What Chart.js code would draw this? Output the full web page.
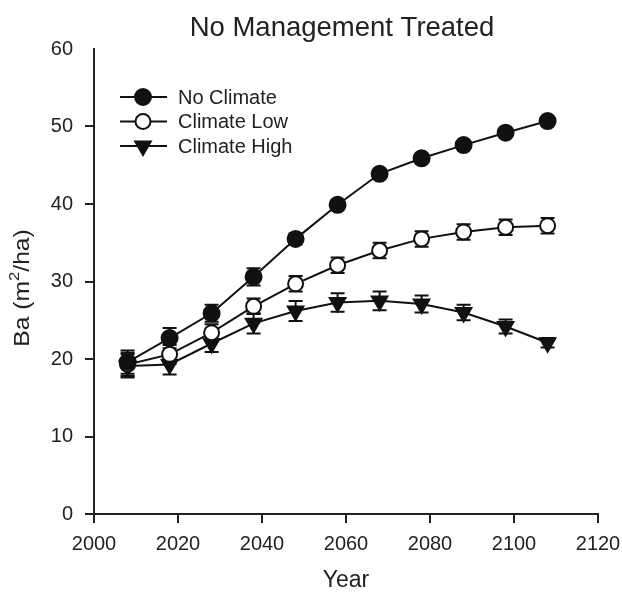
<!DOCTYPE html>
<html>
<head>
<meta charset="utf-8">
<script src="https://cdn.jsdelivr.net/npm/chart.js@4.4.0/dist/chart.umd.min.js"></script>
<style>
  html, body { margin:0; padding:0; background:#fff; }
</style>
</head>
<body>
<canvas id="c" width="622" height="594"></canvas>
<script>
const years = [2008, 2018, 2028, 2038, 2048, 2058, 2068, 2078, 2088, 2098, 2108];
const noClimate    = [19.6, 22.7, 25.9, 30.6, 35.5, 39.9, 43.9, 45.9, 47.6, 49.2, 50.7];
const noClimateErr = [1.5, 1.3, 1.1, 1.1, 0.7, 0.6, 0.5, 0.5, 0.5, 0.5, 0.5];
const climateLow    = [19.3, 20.6, 23.4, 26.8, 29.7, 32.1, 34.0, 35.5, 36.4, 37.0, 37.2];
const climateLowErr = [1.5, 1.2, 1.1, 1.0, 1.0, 1.0, 1.0, 1.0, 1.0, 1.0, 1.0];
const climateHigh    = [19.1, 19.3, 22.0, 24.6, 26.2, 27.3, 27.5, 27.1, 26.0, 24.2, 22.1];
const climateHighErr = [1.5, 1.3, 1.1, 1.3, 1.3, 1.2, 1.2, 1.1, 1.0, 0.9, 0.6];
const seriesNames = ['No Climate', 'Climate Low', 'Climate High'];

const FONT = '"Liberation Sans", Arial, sans-serif';
const INK = '#111';
const TXT = '#222';

function pts(vals){
  return years.map((yr, i) => ({x: yr, y: vals[i]}));
}

// vertical error bars with caps, drawn under the markers
const errorBars = {
  id: 'errorBars',
  beforeDatasetsDraw(chart){
    const {ctx, scales:{x, y}} = chart;
    ctx.save();
    ctx.strokeStyle = INK;
    ctx.lineWidth = 2;
    chart.data.datasets.forEach(ds => {
      ds.err.forEach((e, j) => {
        const px = x.getPixelForValue(ds.data[j].x);
        const top = y.getPixelForValue(ds.data[j].y + e);
        const bot = y.getPixelForValue(ds.data[j].y - e);
        ctx.beginPath();
        ctx.moveTo(px, top); ctx.lineTo(px, bot);
        ctx.moveTo(px - 7, top); ctx.lineTo(px + 7, top);
        ctx.moveTo(px - 7, bot); ctx.lineTo(px + 7, bot);
        ctx.stroke();
      });
    });
    ctx.restore();
  }
};

// legend inside the plot, line + marker + label
const innerLegend = {
  id: 'innerLegend',
  afterDraw(chart){
    const ctx = chart.ctx;
    ctx.save();
    chart.data.datasets.forEach((ds, i) => {
      const cy = 97 + i * 24.5;
      ctx.strokeStyle = INK;
      ctx.lineWidth = 2;
      ctx.beginPath();
      ctx.moveTo(120, cy); ctx.lineTo(167, cy);
      ctx.stroke();
      ctx.fillStyle = ds.pointBackgroundColor;
      Chart.helpers.drawPoint(ctx, {
        pointStyle: ds.pointStyle,
        rotation: ds.pointRotation || 0,
        radius: ds.pointRadius,
        borderWidth: 2
      }, 143, cy);
      ctx.fillStyle = TXT;
      ctx.font = '20px ' + FONT;
      ctx.textBaseline = 'middle';
      ctx.textAlign = 'left';
      ctx.fillText(ds.label, 178, cy + 1);
    });
    ctx.restore();
  }
};

// title centred on the plot area + y title with a real superscript
const texts = {
  id: 'texts',
  afterDraw(chart){
    const {ctx, chartArea} = chart;
    ctx.save();
    ctx.fillStyle = TXT;
    ctx.font = '27.5px ' + FONT;
    ctx.textAlign = 'center';
    ctx.textBaseline = 'middle';
    ctx.fillText('No Management Treated', (chartArea.left + chartArea.right) / 2 - 4, 28);
    ctx.restore();

    const parts = [['Ba (m', 22, 0], ['2', 15, -8], ['/ha)', 22, 0]];
    ctx.save();
    ctx.translate(23, 288);
    ctx.rotate(-Math.PI / 2);
    ctx.scale(1.12, 1);
    ctx.fillStyle = TXT;
    ctx.textBaseline = 'middle';
    ctx.textAlign = 'left';
    let total = 0;
    parts.forEach(p => { ctx.font = p[1] + 'px ' + FONT; total += ctx.measureText(p[0]).width; });
    let xx = -total / 2;
    parts.forEach(p => {
      ctx.font = p[1] + 'px ' + FONT;
      ctx.fillText(p[0], xx, p[2]);
      xx += ctx.measureText(p[0]).width;
    });
    ctx.restore();
  }
};

const common = {
  borderColor: INK,
  borderWidth: 2,
  pointBorderColor: INK,
  pointBorderWidth: 2,
  tension: 0
};

new Chart(document.getElementById('c'), {
  type: 'line',
  data: {
    datasets: [
      Object.assign({}, common, {
        label: seriesNames[0], data: pts(noClimate), err: noClimateErr,
        pointStyle: 'circle', pointRadius: 8, pointBackgroundColor: INK
      }),
      Object.assign({}, common, {
        label: seriesNames[1], data: pts(climateLow), err: climateLowErr,
        pointStyle: 'circle', pointRadius: 7.5, pointBackgroundColor: '#fff'
      }),
      Object.assign({}, common, {
        label: seriesNames[2], data: pts(climateHigh), err: climateHighErr,
        pointStyle: 'triangle', pointRotation: 180, pointRadius: 9, pointBackgroundColor: INK
      })
    ]
  },
  options: {
    responsive: false,
    animation: false,
    layout: { padding: { top: 49, right: 24, left: 0, bottom: 0 } },
    plugins: {
      legend: { display: false },
      title: { display: false },
      tooltip: { enabled: false }
    },
    scales: {
      x: {
        type: 'linear',
        min: 2000, max: 2120,
        afterFit(scale){
          scale.height = 80;
          scale.paddingLeft = 0;
          scale.paddingRight = 0;
        },
        ticks: { stepSize: 20, color: TXT, font: { family: FONT, size: 20 }, padding: 9, callback: v => String(v) },
        grid: { drawOnChartArea: false, drawTicks: true, tickLength: 9, color: '#222', lineWidth: 2 },
        border: { display: true, color: '#222', width: 2 },
        title: { display: true, text: 'Year', color: TXT, font: { family: FONT, size: 23 }, padding: { top: 0, bottom: 0 } }
      },
      y: {
        min: 0, max: 60,
        afterFit(scale){ scale.width = 94; },
        ticks: { stepSize: 10, color: TXT, font: { family: FONT, size: 20 }, padding: 12 },
        grid: {
          drawOnChartArea: false, drawTicks: true, tickLength: 9, lineWidth: 2,
          color: c => (c.tick && c.tick.value === 60) ? 'rgba(0,0,0,0)' : '#222'
        },
        border: { display: true, color: '#222', width: 2 },
        title: { display: false }
      }
    }
  },
  plugins: [errorBars, innerLegend, texts]
});
</script>
</body>
</html>
